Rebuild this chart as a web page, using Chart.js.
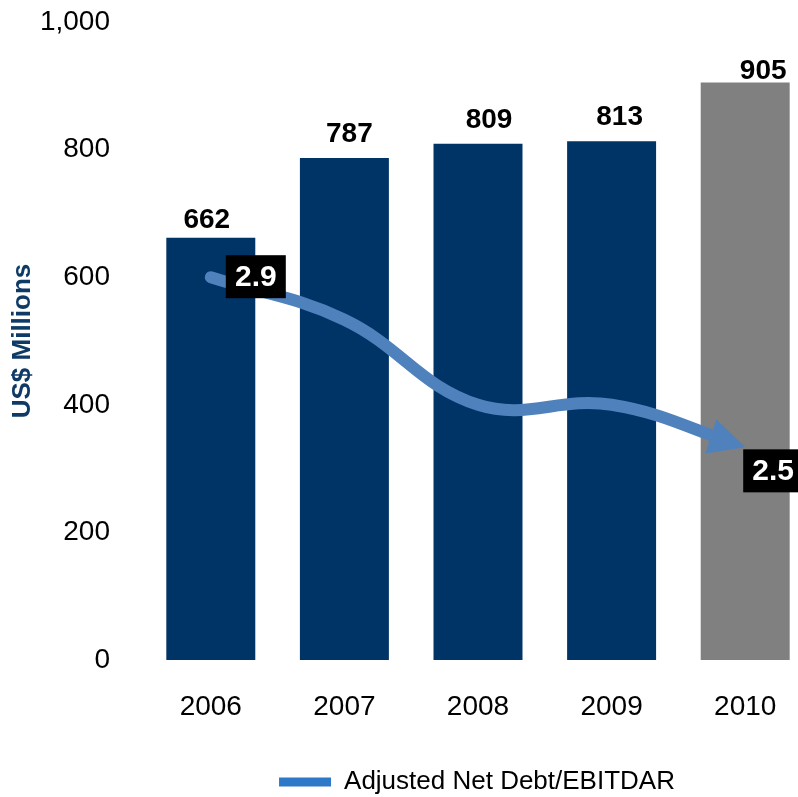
<!DOCTYPE html>
<html>
<head>
<meta charset="utf-8">
<script src="https://cdn.jsdelivr.net/npm/chart.js@4.4.1/dist/chart.umd.min.js"></script>
<style>
  html, body { margin: 0; padding: 0; background: #fff; overflow: hidden; }
  #wrap { width: 954px; height: 797px; }
</style>
</head>
<body>
<div id="wrap"><canvas id="debtChart" width="954" height="797"></canvas></div>
<script>
  const years = ['2006', '2007', '2008', '2009', '2010'];
  const debt = [662, 787, 809, 813, 905];            // US$ millions
  const leverage = [2.9, 2.8, 2.6, 2.6, 2.5];          // adjusted net debt / EBITDAR
  const leverageShown = [0, 4];                        // points that get a value box
  const yTicks = [0, 200, 400, 600, 800, 1000];

  const navy = '#003366';
  const grey = '#808080';
  const lineBlue = '#4F81BD';
  const legendBlue = '#2E78C8';
  const font = "'Liberation Sans', Arial, sans-serif";

  const ctx = document.getElementById('debtChart');

  // nudges for the value text above each bar [dx, gap above bar]
  const barLabelShift = [[-4, 10], [5, 16], [11, 16], [8, 16], [18, 4]];
  // ratio boxes relative to their point [dx, dy of box top]
  const boxShift = { 0: [15, -22], 4: [-2, 2] };
  const arrowHead = { len: 36, half: 18 };

  function arrowGeom(chart) {
    const pts = chart.getDatasetMeta(1).data;
    const tip = pts[pts.length - 1];
    let dx = tip.x - tip.cp1x, dy = tip.y - tip.cp1y;
    const l = Math.hypot(dx, dy) || 1;
    dx /= l; dy /= l;
    const bx = tip.x - dx * arrowHead.len, by = tip.y - dy * arrowHead.len;
    return { tip, dx, dy, nx: -dy, ny: dx, bx, by };
  }

  // turns the end of the line into an arrow
  const arrowPlugin = {
    id: 'arrow',
    beforeDatasetDraw(chart, args) {
      if (args.index !== 1) return;
      const g = arrowGeom(chart);
      const c = chart.ctx;
      c.save();
      // cut the stroke off where the head begins
      c.beginPath();
      c.rect(0, 0, chart.width, chart.height);
      c.moveTo(g.bx + g.nx * 200, g.by + g.ny * 200);
      c.lineTo(g.bx + g.nx * 200 + g.dx * 200, g.by + g.ny * 200 + g.dy * 200);
      c.lineTo(g.bx - g.nx * 200 + g.dx * 200, g.by - g.ny * 200 + g.dy * 200);
      c.lineTo(g.bx - g.nx * 200, g.by - g.ny * 200);
      c.closePath();
      c.clip('evenodd');
    },
    afterDatasetDraw(chart, args) {
      if (args.index !== 1) return;
      const c = chart.ctx;
      c.restore();
      const g = arrowGeom(chart);
      c.save();
      c.fillStyle = lineBlue;
      c.beginPath();
      c.moveTo(g.tip.x, g.tip.y);
      c.lineTo(g.bx + g.nx * arrowHead.half, g.by + g.ny * arrowHead.half);
      c.lineTo(g.bx - g.nx * arrowHead.half, g.by - g.ny * arrowHead.half);
      c.closePath();
      c.fill();
      c.restore();
    }
  };

  const labelPlugin = {
    id: 'labels',
    afterDatasetsDraw(chart) {
      const c = chart.ctx;
      c.save();
      // bar values
      c.fillStyle = '#000';
      c.font = 'bold 28px ' + font;
      c.textAlign = 'center';
      c.textBaseline = 'alphabetic';
      chart.getDatasetMeta(0).data.forEach((bar, i) => {
        const s = barLabelShift[i];
        c.fillText(debt[i].toLocaleString('en-US'), bar.x + s[0], bar.y - s[1]);
      });
      // ratio boxes
      const pts = chart.getDatasetMeta(1).data;
      c.font = 'bold 30px ' + font;
      c.textBaseline = 'middle';
      leverageShown.forEach(i => {
        const p = pts[i], s = boxShift[i];
        const w = 60, h = 43;
        const x = p.x + s[0], y = p.y + s[1];
        c.fillStyle = '#000';
        c.fillRect(x, y, w, h);
        c.fillStyle = '#fff';
        c.fillText(leverage[i].toFixed(1), x + w / 2, y + h / 2 + 1);
      });
      c.restore();
    }
  };

  new Chart(ctx, {
    data: {
      labels: years,
      datasets: [{
        type: 'bar',
        label: 'US$ Millions',
        data: debt,
        backgroundColor: debt.map((v, i) => i === debt.length - 1 ? grey : navy),
        borderWidth: 0,
        categoryPercentage: 1,
        barPercentage: 0.666,
        yAxisID: 'y',
        order: 2
      }, {
        type: 'line',
        label: 'Adjusted Net Debt/EBITDAR',
        data: leverage,
        borderColor: lineBlue,
        backgroundColor: legendBlue,
        borderWidth: 12,
        borderCapStyle: 'round',
        tension: 0.4,
        pointRadius: 0,
        fill: false,
        yAxisID: 'y1',
        order: 1
      }]
    },
    options: {
      responsive: false,
      animation: false,
      devicePixelRatio: 1,
      layout: { padding: { top: 22, bottom: -8, left: 0, right: 0 } },
      scales: {
        x: {
          grid: { display: false, drawTicks: false },
          border: { display: false },
          ticks: { color: '#000', font: { family: font, size: 28 }, padding: 30 },
          afterFit(scale) { scale.height = 107; }
        },
        y: {
          min: 0,
          max: 1000,
          afterBuildTicks(scale) { scale.ticks = yTicks.map(v => ({ value: v })); },
          grid: { display: false, drawTicks: true, tickLength: 30 },
          border: { display: false },
          ticks: { color: '#000', font: { family: font, size: 28 }, padding: 4 },
          title: {
            display: true,
            text: 'US$ Millions',
            color: '#0E3A66',
            font: { family: font, size: 26, weight: 'bold' },
            padding: { top: 7, bottom: 0 }
          },
          afterFit(scale) { scale.width = 144; }
        },
        y1: {
          position: 'right',
          min: 2.0,
          max: 3.5,
          grid: { display: false, drawTicks: false },
          border: { display: false },
          ticks: { display: false },
          afterFit(scale) { scale.width = 142; }
        }
      },
      plugins: {
        tooltip: { enabled: false },
        legend: {
          position: 'bottom',
          labels: {
            color: '#000',
            font: { family: font, size: 26 },
            boxWidth: 52,
            boxHeight: 9,
            padding: 2,
            generateLabels(chart) {
              return Chart.defaults.plugins.legend.labels.generateLabels(chart)
                .filter(l => l.datasetIndex === 1)
                .map(l => Object.assign(l, { fillStyle: legendBlue, strokeStyle: legendBlue, lineWidth: 0 }));
            }
          }
        }
      }
    },
    plugins: [arrowPlugin, labelPlugin]
  });
</script>
</body>
</html>
